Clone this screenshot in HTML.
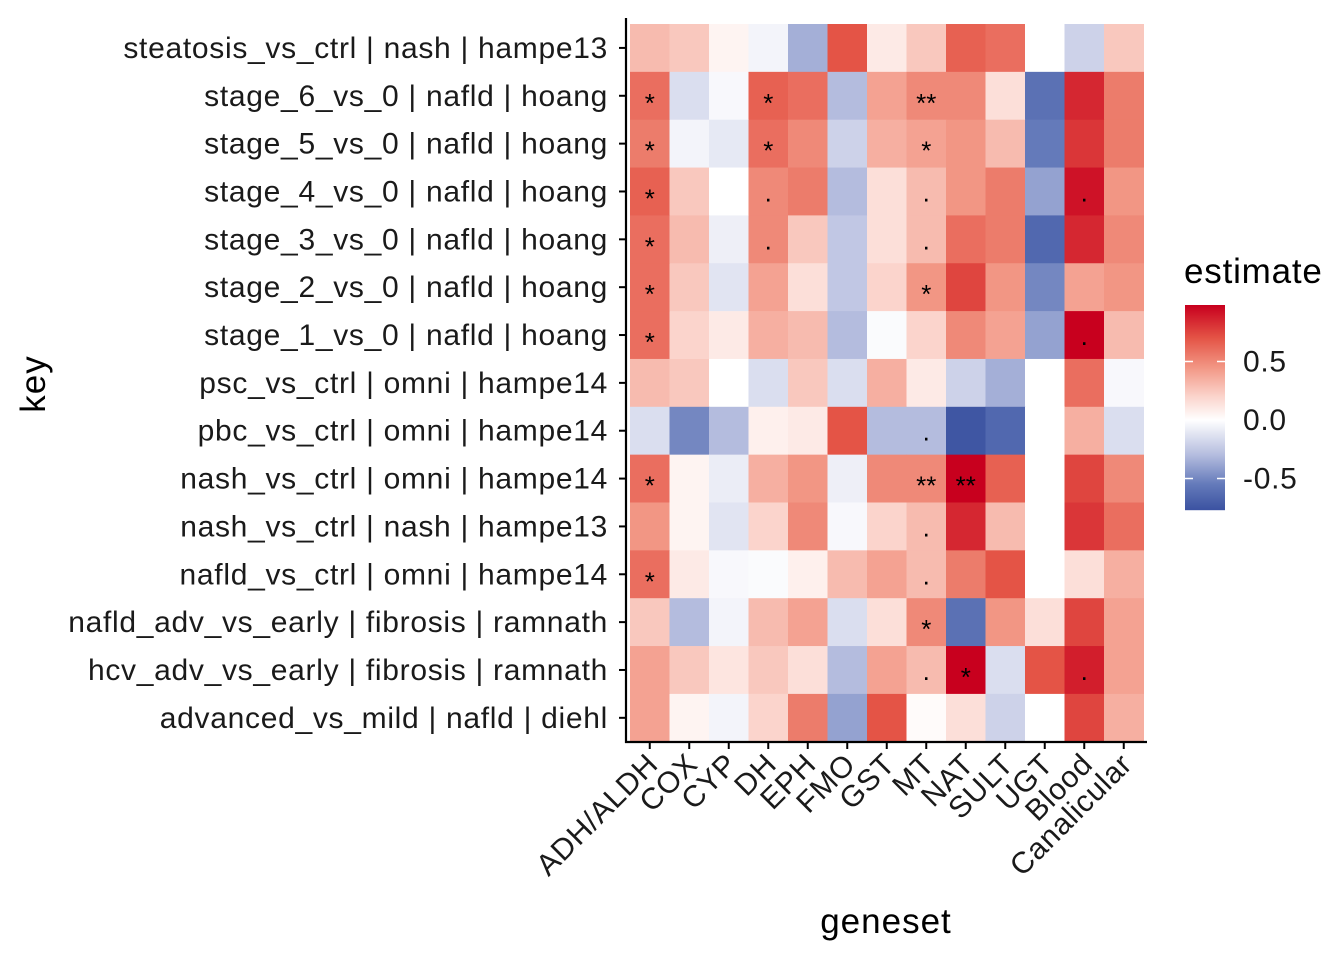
<!DOCTYPE html>
<html><head><meta charset="utf-8"><style>body{margin:0;background:#fff}svg{display:block;font-family:"Liberation Sans",Arial,sans-serif}</style></head>
<body>
<svg id="c" width="1344" height="960" xmlns="http://www.w3.org/2000/svg"></svg>
<script>
const columns=["ADH/ALDH","COX","CYP","DH","EPH","FMO","GST","MT","NAT","SULT","UGT","Blood","Canalicular"];
const rows=["steatosis_vs_ctrl | nash | hampe13","stage_6_vs_0 | nafld | hoang","stage_5_vs_0 | nafld | hoang","stage_4_vs_0 | nafld | hoang","stage_3_vs_0 | nafld | hoang","stage_2_vs_0 | nafld | hoang","stage_1_vs_0 | nafld | hoang","psc_vs_ctrl | omni | hampe14","pbc_vs_ctrl | omni | hampe14","nash_vs_ctrl | omni | hampe14","nash_vs_ctrl | nash | hampe13","nafld_vs_ctrl | omni | hampe14","nafld_adv_vs_early | fibrosis | ramnath","hcv_adv_vs_early | fibrosis | ramnath","advanced_vs_mild | nafld | diehl"];
const values=[
[0.3,0.25,0.05,-0.05,-0.35,0.7,0.1,0.25,0.65,0.6,null,-0.2,0.25],
[0.6,-0.15,-0.03,0.65,0.6,-0.3,0.4,0.5,0.5,0.15,-0.6,0.85,0.55],
[0.55,-0.05,-0.1,0.6,0.5,-0.2,0.35,0.4,0.45,0.3,-0.55,0.8,0.55],
[0.65,0.25,0,0.5,0.55,-0.3,0.15,0.3,0.45,0.55,-0.4,0.92,0.45],
[0.6,0.3,-0.07,0.5,0.25,-0.25,0.15,0.3,0.6,0.55,-0.65,0.85,0.5],
[0.6,0.25,-0.12,0.4,0.15,-0.25,0.2,0.45,0.75,0.45,-0.5,0.4,0.45],
[0.6,0.2,0.1,0.35,0.3,-0.3,-0.02,0.2,0.5,0.4,-0.4,0.98,0.3],
[0.3,0.25,0,-0.15,0.25,-0.15,0.35,0.1,-0.2,-0.35,null,0.6,-0.03],
[-0.15,-0.5,-0.3,0.07,0.1,0.7,-0.3,-0.3,-0.75,-0.65,null,0.35,-0.15],
[0.6,0.05,-0.08,0.35,0.45,-0.07,0.5,0.5,0.98,0.65,null,0.75,0.5],
[0.45,0.05,-0.12,0.2,0.5,-0.03,0.2,0.3,0.85,0.3,null,0.8,0.6],
[0.6,0.1,-0.03,-0.02,0.07,0.3,0.4,0.3,0.55,0.7,null,0.15,0.35],
[0.25,-0.3,-0.05,0.3,0.4,-0.15,0.15,0.5,-0.6,0.45,0.15,0.75,0.4],
[0.4,0.25,0.12,0.25,0.15,-0.3,0.4,0.3,0.98,-0.15,0.7,0.88,0.4],
[0.4,0.05,-0.05,0.2,0.55,-0.4,0.7,0.02,0.15,-0.2,null,0.75,0.35]];
const sig=[
["","","","","","","","","","","","",""],
["*","","","*","","","","**","","","","",""],
["*","","","*","","","","*","","","","",""],
["*","","",".","","","",".","","","",".",""],
["*","","",".","","","",".","","","","",""],
["*","","","","","","","*","","","","",""],
["*","","","","","","","","","","",".",""],
["","","","","","","","","","","","",""],
["","","","","","","",".","","","","",""],
["*","","","","","","","**","**","","","",""],
["","","","","","","",".","","","","",""],
["*","","","","","","",".","","","","",""],
["","","","","","","","*","","","","",""],
["","","","","","","",".","*","","",".",""],
["","","","","","","","","","","","",""]];
const legendTicks=[0.5,0,-0.5];
const NS="http://www.w3.org/2000/svg",svg=document.getElementById('c');
function el(t,a,p){const e=document.createElementNS(NS,t);for(const k in a)e.setAttribute(k,a[k]);(p||svg).appendChild(e);return e;}
const x0=630,cw=39.5,y0=24,rh=47.85;
const xs=i=>x0+i*cw, ys=j=>y0+j*rh;
const stops=[[-0.77,[59,82,161]],[-0.55,[100,122,186]],[-0.3,[180,188,222]],[0,[255,255,255]],[0.2,[251,212,204]],[0.45,[242,150,132]],[0.7,[228,84,70]],[0.98,[200,0,30]]];
function col(v){if(v==null)return"#ffffff";v=Math.max(-0.77,Math.min(0.98,v));
for(let k=0;k<stops.length-1;k++){const[a,A]=stops[k],[b,B]=stops[k+1];if(v<=b){const t=(v-a)/(b-a);return`rgb(${A.map((x,i)=>Math.round(x+(B[i]-x)*t))})`;}}return"rgb(200,0,30)";}
values.forEach((r,j)=>r.forEach((v,i)=>{
const c=el('rect',{x:xs(i),y:ys(j),width:cw+0.5,height:rh+0.5,fill:col(v)});


if(sig[j][i]){const s=el('text',{x:xs(i)+cw/2,y:ys(j)+rh/2+(sig[j][i]=="."?10:16),'text-anchor':'middle','font-size':26,fill:'#000'});s.textContent=sig[j][i];

}
}));
el('line',{x1:626,y1:18,x2:626,y2:743,stroke:'#000','stroke-width':2.2});
el('line',{x1:625,y1:742,x2:1147,y2:742,stroke:'#000','stroke-width':2.2});
rows.forEach((r,j)=>{const y=ys(j)+rh/2;el('line',{x1:619,x2:626,y1:y,y2:y,stroke:'#000','stroke-width':2});
const t=el('text',{x:608,y:y+10,'text-anchor':'end','font-size':30,'letter-spacing':0.7,fill:'#1a1a1a'});t.textContent=r;

});
columns.forEach((c,i)=>{const x=xs(i)+cw/2;el('line',{x1:x,x2:x,y1:742,y2:749,stroke:'#000','stroke-width':2});
const t=el('text',{transform:`translate(${x+10},${766}) rotate(-45)`,'text-anchor':'end','font-size':30,'letter-spacing':0.7,fill:'#1a1a1a'});t.textContent=c;

});
let t=el('text',{x:886,y:933,'text-anchor':'middle','font-size':35,'letter-spacing':1});t.textContent='geneset';

t=el('text',{transform:'translate(45,384) rotate(-90)','text-anchor':'middle','font-size':35,'letter-spacing':1});t.textContent='key';

t=el('text',{x:1184,y:283,'font-size':35,'letter-spacing':0.8});t.textContent='estimate';

const lg=el('g',{});
const ly=v=>420-v*117;
for(let y=305;y<510;y++){const v=(420-y-0.5)/117;el('rect',{x:1185,y:y,width:40,height:1.2,fill:col(v)},lg);}
legendTicks.forEach(v=>{const y=ly(v);el('line',{x1:1185,x2:1193,y1:y,y2:y,stroke:'#fff','stroke-width':1.5},lg);el('line',{x1:1217,x2:1225,y1:y,y2:y,stroke:'#fff','stroke-width':1.5},lg);
const tt=el('text',{x:1243,y:y+10,'font-size':30,'letter-spacing':0.7,fill:'#1a1a1a'},lg);tt.textContent=v==0?'0.0':(v>0?'0.5':'-0.5');
});
</script>
</body></html>
